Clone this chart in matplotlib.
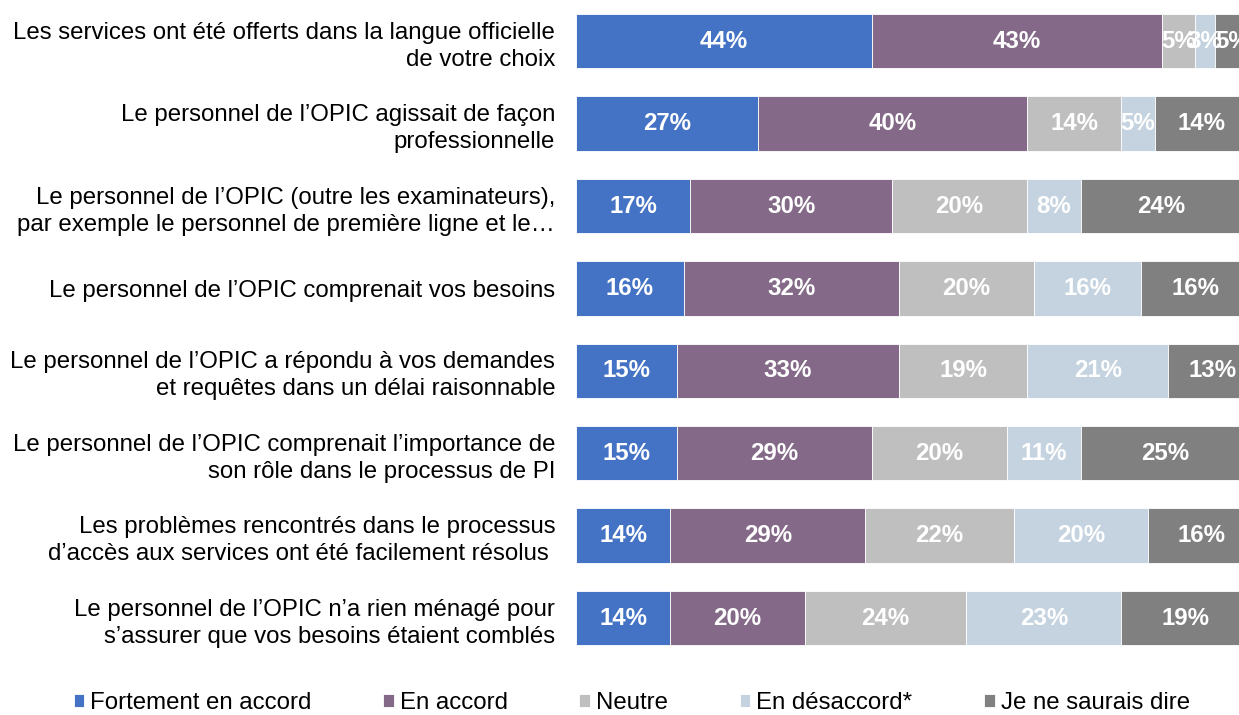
import numpy as np
import matplotlib.pyplot as plt

plt.rcParams['font.family'] = ['Liberation Sans', 'DejaVu Sans']

# categories, top to bottom
categories = [
    "Les services ont été offerts dans la langue officielle\nde votre choix",
    "Le personnel de l’OPIC agissait de façon\nprofessionnelle",
    "Le personnel de l’OPIC (outre les examinateurs),\npar exemple le personnel de première ligne et le…",
    "Le personnel de l’OPIC comprenait vos besoins",
    "Le personnel de l’OPIC a répondu à vos demandes\net requêtes dans un délai raisonnable",
    "Le personnel de l’OPIC comprenait l’importance de\nson rôle dans le processus de PI",
    "Les problèmes rencontrés dans le processus\nd’accès aux services ont été facilement résolus ",
    "Le personnel de l’OPIC n’a rien ménagé pour\ns’assurer que vos besoins étaient comblés",
]

series_names = ["Fortement en accord", "En accord", "Neutre", "En désaccord*", "Je ne saurais dire"]
fortement = [44, 27, 17, 16, 15, 15, 14, 14]
accord = [43, 40, 30, 32, 33, 29, 29, 20]
neutre = [5, 14, 20, 20, 19, 20, 22, 24]
desaccord = [3, 5, 8, 16, 21, 11, 20, 23]
ne_sait = [5, 14, 24, 16, 13, 25, 16, 19]

colors = ["#4472C4", "#846A88", "#BFBFBF", "#C4D3DF", "#808080"]
FS = 17.3

fig = plt.figure(figsize=(12.39, 7.15), dpi=100)
ax = fig.add_axes([576 / 1239, 0.078, 1 - 576 / 1239, 0.922])

y = np.arange(len(categories))
left = np.zeros(len(categories))
for name, vals, c in zip(series_names, [fortement, accord, neutre, desaccord, ne_sait], colors):
    vals = np.array(vals, dtype=float)
    ax.barh(y, vals, left=left, height=0.66, color=c, label=name,
            edgecolor="white", linewidth=0.6)
    for yi, l, v in zip(y, left, vals):
        ax.text(l + v / 2, yi, f"{int(v)}%", ha="center", va="center",
                color="white", fontsize=FS, fontweight="bold")
    left += vals

ax.set_xlim(0, 98.5)
ax.set_ylim(len(categories) - 0.5, -0.5)
ax.set_xticks([])
ax.set_yticks(y)
ax.set_yticklabels(categories, fontsize=FS, linespacing=1.3)
ax.tick_params(axis="y", length=0, pad=15)
for s in ax.spines.values():
    s.set_visible(False)

leg = fig.legend(loc="lower left", bbox_to_anchor=(0.042, -0.029), ncol=5,
                 frameon=False, fontsize=FS, handlelength=0.45, handleheight=0.45,
                 handletextpad=0.25, columnspacing=2.97)

fig.savefig("out.png", dpi=100)
